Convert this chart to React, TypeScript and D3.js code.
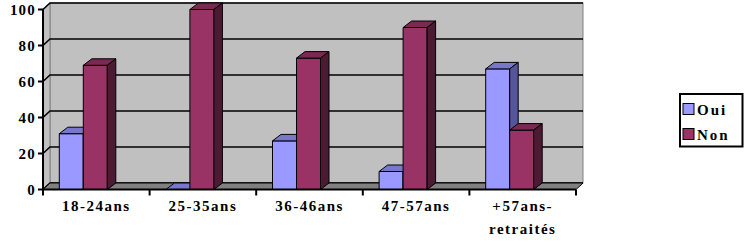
import React from "react";
import * as d3 from "d3";

const categories: string[][] = [["18-24ans"], ["25-35ans"], ["36-46ans"], ["47-57ans"], ["+57ans-", "retraités"]];
const seriesNames = ["Oui", "Non"];
const oui = [31, 0, 27, 10, 67];
const non = [69, 100, 73, 90, 33];
const yTicks = [0, 20, 40, 60, 80, 100];

const colors = {
  Oui: { front: "#9999ff", top: "#7777cc", side: "#555599" },
  Non: { front: "#993366", top: "#7a2952", side: "#4d1a33" },
};

export default function App() {
  const W = 750, H = 242;
  const x0 = 43, x1 = 576;
  const WDX = 7, WDY = -6.5;
  const BDX = 8.5, BDY = -6.5;
  const y = d3.scaleLinear().domain([0, 100]).range([189.5, 9.5]);
  const keys = categories.map((c) => c.join(" "));
  const x = d3.scaleBand<string>().domain(keys).range([x0, x1]).padding(0);
  const inner = d3.scaleBand<string>().domain(seriesNames).range([16.3, 64.3]).padding(0);
  const data = [oui, non];
  const tstyle: React.CSSProperties = { fontFamily: "Liberation Serif, DejaVu Serif, serif", fontWeight: 700 };

  const bars: React.ReactNode[] = [];
  keys.forEach((k, i) => {
    seriesNames.forEach((s, si) => {
      const v = data[si][i];
      const bx = (x(k) as number) + (inner(s) as number);
      const bw = inner.bandwidth();
      const yt = y(v);
      const yb = y(0);
      const c = (colors as any)[s];
      const top = `M${bx},${yt}L${bx + BDX},${yt + BDY}L${bx + bw + BDX},${yt + BDY}L${bx + bw},${yt}Z`;
      const side = `M${bx + bw},${yt}L${bx + bw + BDX},${yt + BDY}L${bx + bw + BDX},${yb + BDY}L${bx + bw},${yb}Z`;
      bars.push(
        <g key={k + s} stroke="#000" strokeWidth={1} strokeLinejoin="round">
          {v > 0 && <rect x={bx} y={yt} width={bw} height={yb - yt} fill={c.front} />}
          <path d={top} fill={c.top} />
          {v > 0 && <path d={side} fill={c.side} />}
        </g>
      );
    });
  });

  return (
    <svg width={W} height={H} style={{ position: "absolute", left: 0, top: 0 }}>
      <rect width={W} height={H} fill="#fff" />
      <rect x={x0 + WDX} y={y(100) + WDY} width={x1 - x0} height={y(0) - y(100)} fill="#c0c0c0" stroke="#808080" strokeWidth={1} />
      <path d={`M${x0},${y(100)}L${x0 + WDX},${y(100) + WDY}L${x0 + WDX},${y(0) + WDY}L${x0},${y(0)}Z`} fill="#c0c0c0" stroke="#808080" />
      {yTicks.map((t) => (
        <path key={t} d={`M${x0},${y(t)}L${x0 + WDX},${y(t) + WDY}L${x1 + WDX},${y(t) + WDY}`} fill="none" stroke="#000" strokeWidth={1.6} />
      ))}
      <path d={`M${x0},${y(0)}L${x0 + WDX},${y(0) + WDY}L${x1 + WDX},${y(0) + WDY}L${x1},${y(0)}Z`} fill="#808080" stroke="#000" strokeWidth={1} />
      {bars}
      <line x1={x0} x2={x0} y1={y(100)} y2={y(0)} stroke="#000" strokeWidth={2} />
      <line x1={x0} x2={x1} y1={y(0)} y2={y(0)} stroke="#000" strokeWidth={2} />
      {yTicks.map((t) => (
        <g key={"yt" + t}>
          <line x1={x0 - 5} x2={x0} y1={y(t)} y2={y(t)} stroke="#000" strokeWidth={2} />
          <text x={x0 - 7} y={y(t) + 5} textAnchor="end" style={tstyle} fontSize={15} letterSpacing={1.2}>{t}</text>
        </g>
      ))}
      {keys.map((k) => (
        <line key={"xt" + k} x1={x(k) as number} x2={x(k) as number} y1={y(0)} y2={y(0) + 6} stroke="#000" strokeWidth={2} />
      ))}
      <line x1={x1} x2={x1} y1={y(0)} y2={y(0) + 6} stroke="#000" strokeWidth={2} />
      {categories.map((lines, i) => (
        <text key={"xl" + i} textAnchor="middle" style={tstyle} fontSize={15} letterSpacing={1.5}>
          {lines.map((l, j) => (
            <tspan key={j} x={(x(keys[i]) as number) + x.bandwidth() / 2} y={211 + j * 23}>{l}</tspan>
          ))}
        </text>
      ))}
      <rect x={680} y={94} width={62.5} height={52.5} fill="#fff" stroke="#000" strokeWidth={2} />
      {seriesNames.map((s, i) => (
        <g key={"lg" + s}>
          <rect x={683} y={103.5 + i * 25} width={11} height={11} fill={(colors as any)[s].front} stroke="#000" strokeWidth={1} />
          <text x={697} y={114.5 + i * 25} style={tstyle} fontSize={15} letterSpacing={2}>{s}</text>
        </g>
      ))}
    </svg>
  );
}
